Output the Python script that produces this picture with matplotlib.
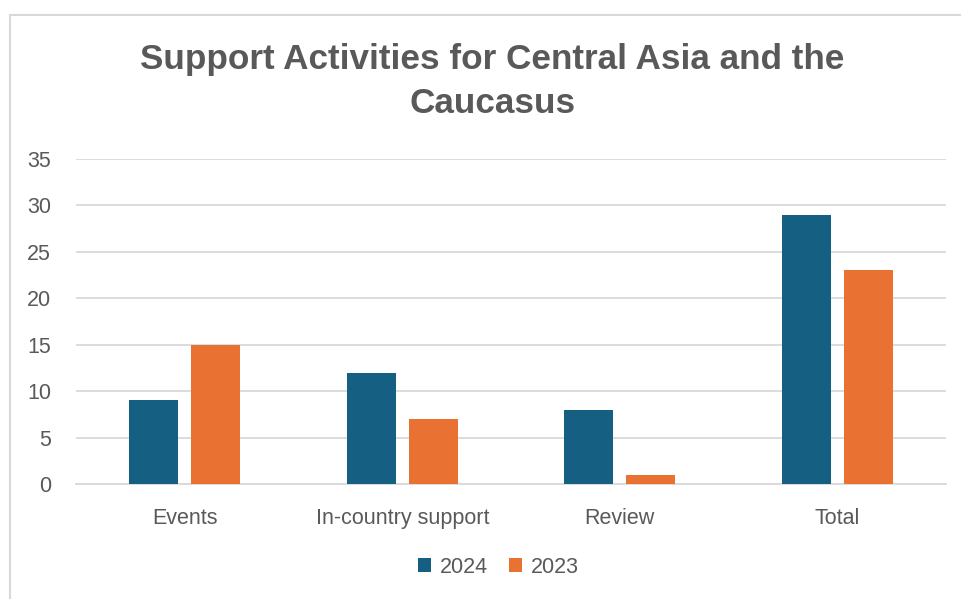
import matplotlib.pyplot as plt
import numpy as np
from matplotlib.patches import Rectangle

categories = ["Events", "In-country support", "Review", "Total"]
values_2024 = [9, 12, 8, 29]
values_2023 = [15, 7, 1, 23]

blue = "#156082"
orange = "#E97132"
text_gray = "#595959"
grid_gray = "#D9D9D9"

plt.rcParams["font.family"] = ["Liberation Sans", "DejaVu Sans"]

fig = plt.figure(figsize=(9.62, 5.99), dpi=100)
ax = fig.add_axes([0.079, 0.192, 0.9044, 0.5426])

# chart border
fig.patches.append(Rectangle((10 / 962, -0.1), 1.2, 1 - 15 / 599 + 0.1,
                             transform=fig.transFigure, fill=False,
                             edgecolor=grid_gray, linewidth=1.5))

x = np.arange(len(categories))
w = 0.225
off = 0.1425
ax.bar(x - off, values_2024, w, color=blue, label="2024", zorder=3)
ax.bar(x + off, values_2023, w, color=orange, label="2023", zorder=3)

ax.set_xlim(-0.5, len(categories) - 0.5)
ax.set_ylim(0, 35)
ax.set_yticks(range(0, 36, 5))
ax.yaxis.grid(True, color=grid_gray, linewidth=1.3, zorder=0)
for s in ["top", "right", "left"]:
    ax.spines[s].set_visible(False)
ax.spines["bottom"].set_color(grid_gray)
ax.spines["bottom"].set_linewidth(1.3)
ax.set_xticks(x)
ax.set_xticklabels(categories)
ax.tick_params(axis="both", length=0, labelsize=15.5, labelcolor=text_gray)
ax.tick_params(axis="x", pad=17)
ax.tick_params(axis="y", pad=18)

fig.text(0.512, 0.864, "Support Activities for Central Asia and the\nCaucasus",
         ha="center", va="center", fontsize=25.3, fontweight="bold",
         color=text_gray, linespacing=1.4)

fig.legend(loc="center", bbox_to_anchor=(0.518, 0.053), ncol=2, frameon=False,
           fontsize=15.5, labelcolor=text_gray, handlelength=0.6, handleheight=0.6,
           handletextpad=0.4, columnspacing=1.0)

fig.savefig("out.png", dpi=100)
